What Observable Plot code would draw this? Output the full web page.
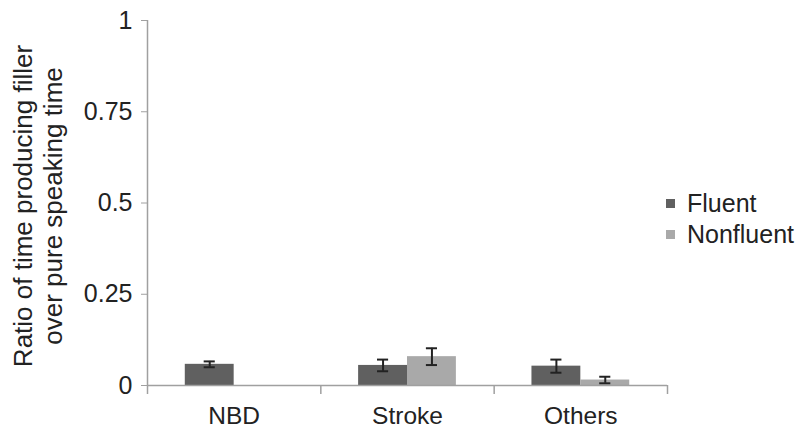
<!DOCTYPE html>
<html>
<head>
<meta charset="utf-8">
<script src="https://cdn.jsdelivr.net/npm/d3@7"></script>
<script src="https://cdn.jsdelivr.net/npm/@observablehq/plot@0.6"></script>
<style>
  html, body { margin: 0; padding: 0; background: #fff; }
  #wrap { position: relative; width: 801px; height: 437px; font-family: "Liberation Sans", Arial, sans-serif; }
  #legend { position: absolute; left: 666px; top: 188px; font-size: 25px; color: #222; }
  .row { display: flex; align-items: center; height: 31px; }
  .sw { width: 9px; height: 9px; margin-right: 12px; }
</style>
</head>
<body>
<div id="wrap"><div id="chart"></div><div id="legend"></div></div>
<script>
const categories = ["NBD", "Stroke", "Others"];
const series = ["Fluent", "Nonfluent"];
const fluent = [0.058, 0.055, 0.053];
const nonfluent = [0, 0.079, 0.015];
const fluentErr = [0.008, 0.016, 0.018];
const nonfluentErr = [null, 0.023, 0.009];
const yTicks = [0, 0.25, 0.5, 0.75, 1];
const colors = ["#606060", "#a9a9a9"];

// layout fractions within each category band
const barW = 0.282, capHalf = 0.032;

const rows = [];
categories.forEach((c, i) => {
  rows.push({cat: c, i, series: "Fluent", value: fluent[i], err: fluentErr[i],
             x1: i + 0.5 - barW, x2: i + 0.5, xc: i + 0.5 - barW / 2});
  rows.push({cat: c, i, series: "Nonfluent", value: nonfluent[i], err: nonfluentErr[i],
             x1: i + 0.5, x2: i + 0.5 + barW, xc: i + 0.5 + barW / 2});
});
const bars = rows.filter(d => d.value > 0);
const errs = rows.filter(d => d.err != null);

const chart = Plot.plot({
  width: 801,
  height: 437,
  marginLeft: 147,
  marginRight: 134,
  marginTop: 20,
  marginBottom: 52,
  style: {fontFamily: "Liberation Sans, Arial, sans-serif", color: "#222", background: "#fff"},
  x: {domain: [0, categories.length]},
  y: {domain: [0, 1]},
  color: {domain: series, range: colors},
  marks: [
    Plot.rectY(bars, {x1: "x1", x2: "x2", y: "value", fill: "series"}),
    Plot.ruleX(errs, {x: "xc", y1: d => d.value - d.err, y2: d => d.value + d.err, stroke: "#222", strokeWidth: 2}),
    Plot.ruleY(errs, {y: d => d.value - d.err, x1: d => d.xc - capHalf, x2: d => d.xc + capHalf, stroke: "#222", strokeWidth: 2}),
    Plot.ruleY(errs, {y: d => d.value + d.err, x1: d => d.xc - capHalf, x2: d => d.xc + capHalf, stroke: "#222", strokeWidth: 2}),
    Plot.ruleY([0], {stroke: "#a0a0a0", strokeWidth: 1.5}),
    Plot.ruleX([0], {stroke: "#a0a0a0", strokeWidth: 1.5}),
    Plot.axisX({ticks: d3.range(categories.length + 1), tickFormat: () => "", tickSize: 9, stroke: "#a0a0a0", strokeWidth: 1.5, label: null}),
    Plot.axisX({ticks: categories.map((c, i) => i + 0.5), tickFormat: t => categories[Math.floor(t)], tickSize: 0, tickPadding: 21, fontSize: 24.5, fill: "#222", label: null}),
    Plot.axisY({ticks: yTicks, tickFormat: d => String(d), tickSize: 6, tickPadding: 9, fontSize: 25, stroke: "#a0a0a0", fill: "#222", label: null}),
    Plot.text(["Ratio of time producing filler\nover pure speaking time"], {
      frameAnchor: "left", textAnchor: "middle", lineAnchor: "middle", dx: -110, dy: 3, rotate: -90,
      fontSize: 26, lineHeight: 1.15, fill: "#222"
    })
  ]
});
document.getElementById("chart").appendChild(chart);

const legend = document.getElementById("legend");
series.forEach((s, i) => {
  const row = document.createElement("div");
  row.className = "row";
  const sw = document.createElement("div");
  sw.className = "sw";
  sw.style.background = colors[i];
  const t = document.createElement("span");
  t.textContent = s;
  row.appendChild(sw);
  row.appendChild(t);
  legend.appendChild(row);
});
</script>
</body>
</html>
